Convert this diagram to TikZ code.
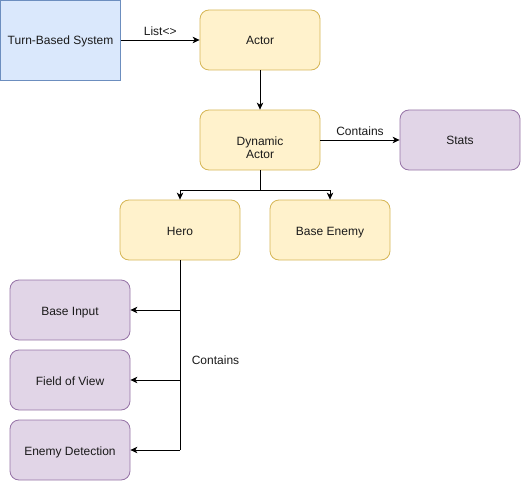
\documentclass[tikz,border=0pt]{standalone}
\usepackage{fontspec}
\setmainfont{Liberation Sans}
\usetikzlibrary{arrows.meta}
\definecolor{bfill}{HTML}{DAE8FC}\definecolor{bline}{HTML}{6C8EBF}
\definecolor{yfill}{HTML}{FFF2CC}\definecolor{yline}{HTML}{D6B656}
\definecolor{pfill}{HTML}{E1D5E7}\definecolor{pline}{HTML}{9673A6}
\definecolor{txt}{HTML}{1A1A1A}
\tikzset{
  box/.style={draw, line width=0.8pt, minimum width=120pt, minimum height=60pt, inner sep=0pt, align=center, font=\fontsize{12}{13.5}\selectfont, text=txt, text height=12pt, text depth=2pt},
  bluebox/.style={box, fill=bfill, draw=bline, minimum height=80pt},
  ybox/.style={box, fill=yfill, draw=yline, rounded corners=9pt},
  pbox/.style={box, fill=pfill, draw=pline, rounded corners=9pt},
  twoline/.style={text height=39.6pt, text depth=2pt},
  conn/.style={line width=0.8pt, -{Stealth[length=7pt,width=6.5pt,inset=2pt]}},
  lbl/.style={font=\fontsize{12}{14}\selectfont, text=txt, inner sep=0pt}
}
\begin{document}
\begin{tikzpicture}[x=1pt,y=-1pt]
\useasboundingbox (0,0) rectangle (521,481);
\node[bluebox] (tbs) at (60.5,40) {Turn-Based System};
\node[ybox] (actor) at (260,40) {Actor};
\node[ybox, twoline] (dyn) at (260,140) {Dynamic\\Actor};
\node[pbox] (stats) at (460,140) {Stats};
\node[ybox] (hero) at (180,230) {Hero};
\node[ybox] (enemy) at (330,230) {Base Enemy};
\node[pbox] (input) at (70,310) {Base Input};
\node[pbox] (fov) at (70,380) {Field of View};
\node[pbox] (det) at (70,450) {Enemy Detection};
\coordinate (br) at (260,190);
\coordinate (h1) at (180,310);
\coordinate (h2) at (180,380);
\coordinate (h3) at (180,450);
\draw[conn] (tbs) -- node[lbl, above=3.5pt] {List<>} (actor);
\draw[conn] (actor) -- (dyn);
\draw[conn] (dyn) -- node[lbl, above=3.5pt] {Contains} (stats);
\draw[conn] (dyn.south) -- (br) -| (hero.north);
\draw[conn] (br) -| (enemy.north);
\draw[line width=0.8pt] (hero.south) -- (h3);
\draw[conn] (h1) -- (input.east);
\draw[conn] (h2) -- (fov.east);
\draw[conn] (h3) -- (det.east);
\node[lbl] (lc) at (215.5,360) {Contains};
\end{tikzpicture}
\end{document}
